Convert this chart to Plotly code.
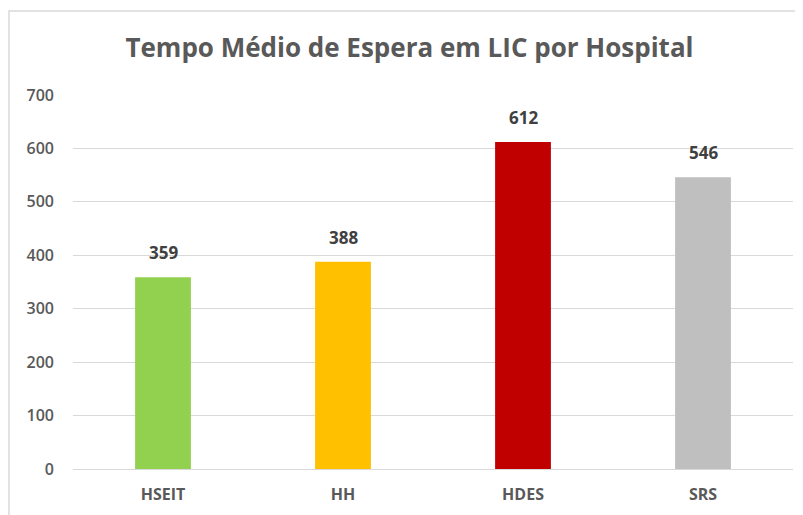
import plotly.graph_objects as go

hospitals = ["HSEIT", "HH", "HDES", "SRS"]
wait_times = [359, 388, 612, 546]
bar_colors = ["#92D050", "#FFC000", "#C00000", "#BFBFBF"]
y_ticks = [0, 100, 200, 300, 400, 500, 600, 700]

FONT = "Open Sans, Lato, sans-serif"

fig = go.Figure()
fig.add_trace(go.Bar(
    x=hospitals, y=wait_times,
    marker=dict(color=bar_colors, line=dict(width=0)),
    hoverinfo="x+y",
))

for h, v in zip(hospitals, wait_times):
    fig.add_annotation(x=h, y=v, text=str(v), showarrow=False,
                       yanchor="bottom", yshift=11,
                       font=dict(family=FONT, size=17, color="#404040", weight=700))

fig.add_shape(type="rect", xref="paper", yref="paper",
              x0=-0.0889, x1=1.2, y0=-0.3, y1=1.2246,
              line=dict(color="#D9D9D9", width=1.5), fillcolor="rgba(0,0,0,0)", layer="below")

fig.update_layout(
    width=803, height=515,
    margin=dict(l=65, r=18, t=87, b=54),
    paper_bgcolor="white", plot_bgcolor="white",
    bargap=0.69,
    showlegend=False,
    title=dict(text="Tempo Médio de Espera em LIC por Hospital",
               x=0.5, xanchor="center", y=0.922, yanchor="middle",
               font=dict(family=FONT, size=26, color="#595959", weight=700)),
    xaxis=dict(showgrid=False, showline=False, ticks="",
               tickfont=dict(family=FONT, size=16, color="#595959", weight=700),
               ticklabelstandoff=14),
    yaxis=dict(range=[0, 700], tickvals=y_ticks, showgrid=True, gridcolor="#D9D9D9", gridwidth=1,
               zeroline=True, zerolinecolor="#D9D9D9", zerolinewidth=1,
               tickfont=dict(family=FONT, size=16, color="#595959", weight=600),
               ticklabelstandoff=18),
)

fig.write_html("out.html")
